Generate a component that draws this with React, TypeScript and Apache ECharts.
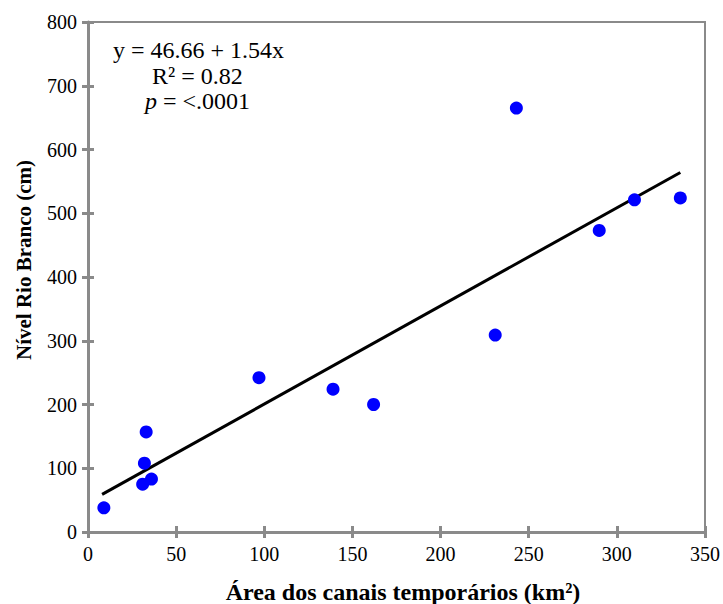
import React, { useEffect, useRef } from "react";
import * as echarts from "echarts";

const areaKm2 = [9, 31, 36, 32, 33, 97, 139, 162, 231, 243, 290, 310, 336];
const nivelCm = [38, 75, 83, 108, 157, 242, 224, 200, 309, 665, 473, 521, 524];
const fitX = [8, 336];
const fitY = [59, 564];
const xTicks = [0, 50, 100, 150, 200, 250, 300, 350];
const yTicks = [0, 100, 200, 300, 400, 500, 600, 700, 800];

const FONT = "'Liberation Serif', 'Times New Roman', serif";
const AXIS_GREY = "#8a8a8a";

export default function App() {
  const ref = useRef<HTMLDivElement>(null);
  useEffect(() => {
    document.body.style.margin = "0";
    if (!ref.current) return;
    const chart = echarts.init(ref.current, undefined, { renderer: "svg" });
    const baseX = {
      type: "value" as const,
      min: xTicks[0],
      max: xTicks[xTicks.length - 1],
      interval: 50,
      splitLine: { show: false },
    };
    const baseY = {
      type: "value" as const,
      min: yTicks[0],
      max: yTicks[yTicks.length - 1],
      interval: 100,
      splitLine: { show: false },
    };
    chart.setOption({
      animation: false,
      backgroundColor: "#ffffff",
      grid: {
        left: 88,
        right: 14,
        top: 22,
        bottom: 72,
        show: true,
        borderColor: AXIS_GREY,
        borderWidth: 2,
      },
      xAxis: [
        {
          ...baseX,
          axisLine: { lineStyle: { color: AXIS_GREY, width: 3 } },
          axisTick: { show: true, inside: false, length: 6, lineStyle: { color: AXIS_GREY, width: 3 } },
          axisLabel: { fontFamily: FONT, fontSize: 20, color: "#000", margin: 12 },
        },
        {
          ...baseX,
          position: "bottom",
          axisLine: { show: false },
          axisTick: { show: true, inside: true, length: 6, lineStyle: { color: AXIS_GREY, width: 3 } },
          axisLabel: { show: false },
        },
      ],
      yAxis: [
        {
          ...baseY,
          axisLine: { lineStyle: { color: AXIS_GREY, width: 3 } },
          axisTick: { show: true, inside: false, length: 6, lineStyle: { color: AXIS_GREY, width: 3 } },
          axisLabel: { fontFamily: FONT, fontSize: 20, color: "#000", margin: 11 },
        },
        {
          ...baseY,
          position: "left",
          axisLine: { show: false },
          axisTick: { show: true, inside: true, length: 6, lineStyle: { color: AXIS_GREY, width: 3 } },
          axisLabel: { show: false },
        },
      ],
      series: [
        {
          type: "line",
          data: fitX.map((x, i) => [x, fitY[i]]),
          showSymbol: false,
          symbol: "none",
          lineStyle: { color: "#000", width: 3 },
          z: 2,
        },
        {
          type: "scatter",
          data: areaKm2.map((x, i) => [x, nivelCm[i]]),
          symbol: "circle",
          symbolSize: 13,
          itemStyle: { color: "#0000ff", opacity: 1 },
          z: 3,
        },
      ],
      graphic: [
        {
          type: "text",
          x: 403,
          y: 592,
          style: {
            text: "Área dos canais temporários (km²)",
            font: `bold 24px ${FONT}`,
            fill: "#000",
            align: "center",
            verticalAlign: "middle",
          },
        },
        {
          type: "text",
          x: 24,
          y: 260,
          rotation: Math.PI / 2,
          style: {
            text: "Nível Rio Branco (cm)",
            font: `bold 21px ${FONT}`,
            fill: "#000",
            align: "center",
            verticalAlign: "middle",
          },
        },
        {
          type: "text",
          x: 113,
          y: 50,
          style: { text: "y = 46.66 + 1.54x", font: `24px ${FONT}`, fill: "#000", verticalAlign: "middle" },
        },
        {
          type: "text",
          x: 152,
          y: 76,
          style: { text: "R² = 0.82", font: `24px ${FONT}`, fill: "#000", verticalAlign: "middle" },
        },
        {
          type: "text",
          x: 145,
          y: 101,
          style: {
            text: "{i|p}{n| = <.0001}",
            verticalAlign: "middle",
            rich: {
              i: { font: `italic 24px ${FONT}`, fill: "#000" },
              n: { font: `24px ${FONT}`, fill: "#000" },
            },
          },
        },
      ],
    });
    return () => chart.dispose();
  }, []);
  return <div ref={ref} style={{ width: 723, height: 604 }} />;
}
